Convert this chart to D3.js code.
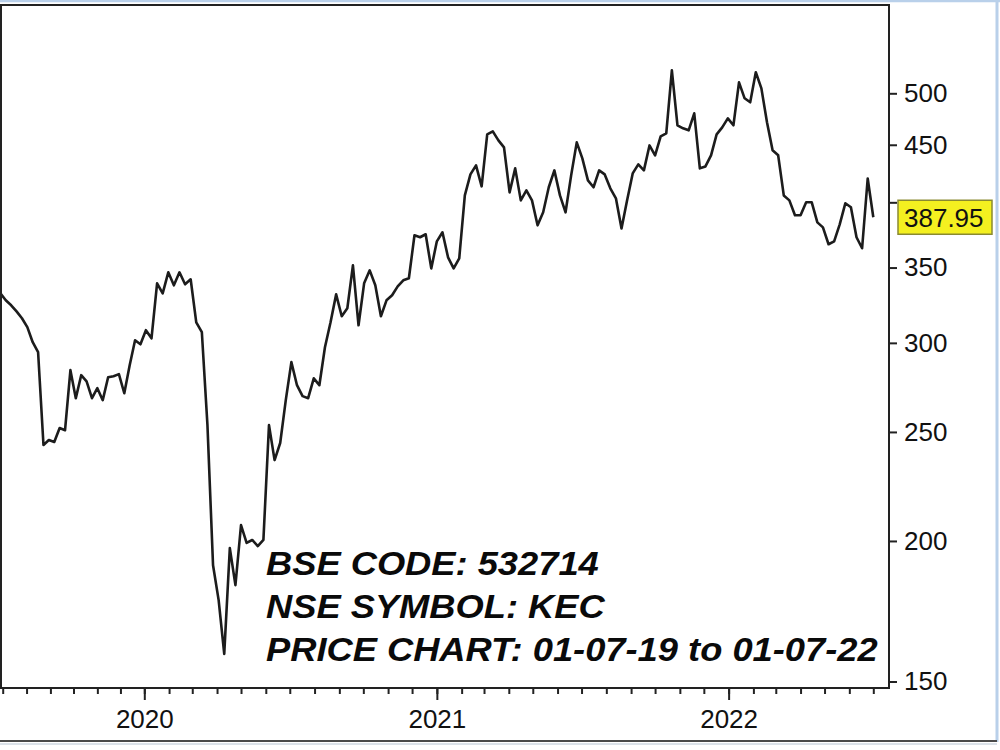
<!DOCTYPE html>
<html>
<head>
<meta charset="utf-8">
<script src="https://cdn.jsdelivr.net/npm/d3@7"></script>
<style>
  html, body { margin: 0; padding: 0; background: #ffffff; }
  svg { display: block; }
</style>
</head>
<body>
<svg id="chart" width="1000" height="750"></svg>
<script>
// ---------------- DATA ----------------
const firstWeek = "2019-06-28";          // first weekly close (Friday)
const weeklyClose = [
  332.0, 327.3, 324.0, 320.0, 315.5, 309.8, 300.4, 294.3, 243.4, 245.9,
  244.9, 252.0, 250.9, 283.7, 267.9, 280.8, 277.3, 267.9, 273.4, 266.8,
  279.6, 280.2, 281.4, 270.6, 286.6, 301.6, 299.1, 307.9, 302.8, 338.9,
  332.0, 346.6, 337.5, 346.6, 338.2, 341.7, 312.9, 306.6, 253.5, 190.3,
  177.2, 158.7, 197.1, 182.7, 206.6, 199.2, 200.4, 197.9, 200.4, 253.5,
  236.0, 244.4, 266.8, 288.4, 275.1, 269.0, 267.9, 279.0, 275.1, 297.3,
  312.9, 331.3, 316.8, 322.0, 351.6, 311.0, 338.9, 348.0, 337.5, 316.8,
  327.3, 330.7, 336.8, 341.0, 342.4, 373.9, 372.4, 374.7, 349.4, 369.3,
  376.2, 357.4, 349.4, 356.7, 405.7, 423.5, 431.4, 413.3, 459.7, 462.5,
  454.1, 447.6, 408.2, 428.8, 401.6, 409.9, 401.6, 381.6, 391.9, 412.5,
  427.0, 405.7, 391.9, 422.7, 452.2, 437.7, 418.4, 412.5, 427.0, 423.5,
  411.6, 403.3, 379.2, 401.6, 424.4, 432.3, 427.0, 449.4, 440.4, 457.8,
  460.6, 524.1, 468.3, 465.4, 463.5, 479.9, 428.8, 430.5, 440.4, 459.7,
  466.3, 475.0, 468.3, 511.3, 494.9, 490.9, 522.0, 505.1, 471.2, 444.9,
  440.4, 405.7, 401.6, 389.5, 389.5, 400.0, 400.0, 383.9, 380.0, 367.1,
  369.3, 382.4, 399.2, 396.0, 372.4, 364.1, 420.0, 387.95
];
const lastPrice = 387.95;
const priceTicks = [150, 200, 250, 300, 350, 400, 450, 500];
const yearTicks = ["2020-01-01", "2021-01-01", "2022-01-01"];
const axisStart = "2019-07-01";
const axisEnd = "2022-07-01";
const noteLines = [
  "BSE CODE: 532714",
  "NSE SYMBOL: KEC",
  "PRICE CHART: 01-07-19 to 01-07-22"
];

// ---------------- SETUP ----------------
const parse = d3.timeParse("%Y-%m-%d");
const start = parse(firstWeek);
const series = weeklyClose.map((v, i) => ({ date: d3.timeWeek.offset(start, i), close: v }));

const svg = d3.select("#chart");
const plot = { left: 1, top: 5, right: 889, bottom: 688 };

const x = d3.scaleTime()
  .domain([parse(axisStart), parse(yearTicks[0]), parse(axisEnd)])
  .range([2.7, 144.3, 873.3]);

const y = d3.scaleLog()
  .domain([150, 500])
  .range([681.5, 93.3]);

const font = "'Liberation Sans', Arial, sans-serif";

// outer window edges
svg.append("rect").attr("x", 0).attr("y", 0).attr("width", 1000).attr("height", 750).attr("fill", "#ffffff");
svg.append("line").attr("x1", 0).attr("x2", 1000).attr("y1", 1).attr("y2", 1)
  .attr("stroke", "#b9d0ea").attr("stroke-width", 2.5);
svg.append("line").attr("x1", 997).attr("x2", 997).attr("y1", 0).attr("y2", 742)
  .attr("stroke", "#b9d0ea").attr("stroke-width", 3);
svg.append("line").attr("x1", 0).attr("x2", 997).attr("y1", 741).attr("y2", 741)
  .attr("stroke", "#4a4a4a").attr("stroke-width", 2);
svg.append("line").attr("x1", 0).attr("x2", 997).attr("y1", 744).attr("y2", 744)
  .attr("stroke", "#cfd8e2").attr("stroke-width", 1.5);

// clip
svg.append("clipPath").attr("id", "plotclip").append("rect")
  .attr("x", plot.left).attr("y", plot.top)
  .attr("width", plot.right - plot.left).attr("height", plot.bottom - plot.top);

// price line
const line = d3.line().x(d => x(d.date)).y(d => y(d.close)).curve(d3.curveLinear);
svg.append("path")
  .datum(series)
  .attr("clip-path", "url(#plotclip)")
  .attr("d", line)
  .attr("fill", "none")
  .attr("stroke", "#1c1c1c")
  .attr("stroke-width", 2.6)
  .attr("stroke-linejoin", "round");

// frame
svg.append("rect")
  .attr("x", plot.left).attr("y", plot.top)
  .attr("width", plot.right - plot.left).attr("height", plot.bottom - plot.top)
  .attr("fill", "none").attr("stroke", "#222").attr("stroke-width", 2);

// x axis: monthly minor ticks
const months = d3.timeMonth.range(parse(axisStart), d3.timeDay.offset(parse(axisEnd), 1));
const xMinor = svg.append("g").attr("transform", `translate(0,${plot.bottom})`)
  .call(d3.axisBottom(x).tickValues(months).tickSize(6).tickFormat(""));
xMinor.select(".domain").remove();
xMinor.selectAll(".tick line").attr("stroke", "#222").attr("stroke-width", 2);

const xMajor = svg.append("g").attr("transform", `translate(0,${plot.bottom})`)
  .call(d3.axisBottom(x).tickValues(yearTicks.map(parse)).tickSize(12).tickPadding(10)
    .tickFormat(d3.timeFormat("%Y")));
xMajor.select(".domain").remove();
xMajor.selectAll(".tick line").attr("stroke", "#222").attr("stroke-width", 2);
xMajor.selectAll(".tick text").attr("font-family", font).attr("font-size", 26)
  .attr("fill", "#111").attr("dy", "0.71em");

// y axis (right)
const priceY = y(lastPrice);
const yAxis = svg.append("g").attr("transform", `translate(${plot.right},0)`)
  .call(d3.axisRight(y).tickValues(priceTicks).tickSize(8).tickPadding(7)
    .tickFormat(d => Math.abs(y(d) - priceY) < 22 ? "" : d3.format("d")(d)));
yAxis.select(".domain").remove();
yAxis.selectAll(".tick line").attr("stroke", "#222").attr("stroke-width", 2);
yAxis.selectAll(".tick text").attr("font-family", font).attr("font-size", 26).attr("fill", "#111");

// last price tag
const tag = svg.append("g").attr("transform", `translate(898,${priceY})`);
tag.append("rect").attr("x", 0).attr("y", -17).attr("width", 94).attr("height", 34)
  .attr("fill", "#f4f020").attr("stroke", "#8a8a30").attr("stroke-width", 1.5);
tag.append("text").attr("x", 6).attr("y", 0).attr("dy", "0.36em")
  .attr("font-family", font).attr("font-size", 26).attr("fill", "#111")
  .text(d3.format(".2f")(lastPrice));

// annotation
const note = svg.append("g").attr("transform", "translate(266,0) scale(1.1,1)");
note.selectAll("text").data(noteLines).enter().append("text")
  .attr("x", 0)
  .attr("y", (d, i) => 575 + i * 43)
  .attr("font-family", font)
  .attr("font-size", 33)
  .attr("font-weight", "bold")
  .attr("font-style", "italic")
  .attr("fill", "#0a0a0a")
  .text(d => d);
</script>
</body>
</html>
